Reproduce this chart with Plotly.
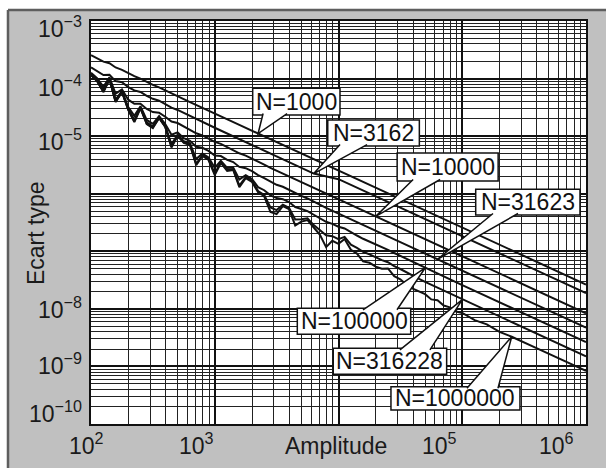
import math
import plotly.graph_objects as go

# ---------------------------------------------------------------------------
# Data: standard deviation ("Ecart type") versus amplitude for several N
# ---------------------------------------------------------------------------
amplitude_grid = [100, 112, 126, 141, 158, 178, 200, 224, 251, 282,
                  316, 355, 398, 447, 501, 562, 631, 708, 794, 891,
                  1000, 1120, 1260, 1410, 1580, 1780, 2000, 2240, 2510, 2820,
                  3160, 3550, 3980, 4470, 5010, 5620, 6310, 7080, 7940, 8910,
                  10000, 11200, 12600, 14100, 15800, 17800, 20000, 22400, 25100, 28200,
                  31600, 35500, 39800, 44700, 50100, 56200, 63100, 70800, 79400, 89100,
                  100000]

amp_n1000 = amplitude_grid[:13] + [631, 1580, 2240, 3980, 10000, 31600, 100000, 316000, 1000000]
sigma_n1000 = [2.55e-4, 2.25e-4, 1.97e-4, 1.85e-4, 1.56e-4, 1.42e-4, 1.24e-4, 1.10e-4, 9.95e-5, 8.74e-5,
               7.79e-5, 7.05e-5, 6.24e-5,
               3.90e-5, 1.57e-5, 1.11e-5, 6.30e-6, 2.53e-6, 8.09e-7, 2.59e-7, 8.27e-8, 2.65e-8]

amp_n3162 = amplitude_grid[:21] + [3160, 6310, 10000, 31600, 100000, 316000, 1000000]
sigma_n3162 = [1.56e-4, 1.35e-4, 1.15e-4, 1.16e-4, 9.04e-5, 8.61e-5, 7.12e-5, 6.24e-5, 5.85e-5, 5.00e-5,
               4.45e-5, 4.13e-5, 3.60e-5, 3.12e-5, 2.85e-5, 2.52e-5, 2.25e-5, 1.97e-5, 1.78e-5, 1.58e-5,
               1.40e-5,
               4.45e-6, 2.24e-6, 1.79e-6, 5.73e-7, 1.83e-7, 5.86e-8, 1.87e-8]

amp_n10000 = amplitude_grid[:33] + [10000, 20000, 31600, 100000, 316000, 1000000]
sigma_n10000 = [1.26e-4, 1.02e-4, 7.17e-5, 1.05e-4, 5.48e-5, 6.51e-5, 4.30e-5, 3.65e-5, 3.65e-5, 2.96e-5,
                2.62e-5, 2.56e-5, 2.17e-5, 1.79e-5, 1.69e-5, 1.48e-5, 1.32e-5, 1.12e-5, 1.03e-5, 9.16e-6,
                7.94e-6, 7.36e-6, 6.45e-6, 5.83e-6, 5.04e-6, 4.60e-6, 4.10e-6, 3.59e-6, 3.20e-6, 2.81e-6,
                2.51e-6, 2.27e-6, 2.02e-6,
                8.00e-7, 4.04e-7, 2.56e-7, 8.18e-8, 2.62e-8, 8.38e-9]

amp_n31623 = amplitude_grid[:39] + [31600, 63100, 100000, 316000, 1000000]
sigma_n31623 = [1.19e-4, 9.45e-5, 6.29e-5, 1.01e-4, 4.32e-5, 6.07e-5, 3.19e-5, 2.25e-5, 3.30e-5, 1.91e-5,
                1.64e-5, 2.23e-5, 1.62e-5, 1.06e-5, 1.16e-5, 9.19e-6, 8.32e-6, 6.53e-6, 6.27e-6, 5.55e-6,
                4.61e-6, 4.51e-6, 3.87e-6, 3.55e-6, 2.92e-6, 2.78e-6, 2.46e-6, 2.10e-6, 1.87e-6, 1.61e-6,
                1.43e-6, 1.32e-6, 1.17e-6, 1.01e-6, 9.16e-7, 8.27e-7, 7.29e-7, 6.45e-7, 5.69e-7,
                1.44e-7, 7.26e-8, 4.60e-8, 1.47e-8, 4.71e-9]

amp_n100000 = amplitude_grid[:51] + [50100, 100000, 316000, 1000000]
sigma_n100000 = [1.17e-4, 9.18e-5, 6.00e-5, 9.91e-5, 4.06e-5, 5.92e-5, 2.97e-5, 1.91e-5, 3.16e-5, 1.73e-5,
                 1.48e-5, 2.12e-5, 1.50e-5, 7.19e-6, 1.06e-5, 8.17e-6, 7.51e-6, 4.00e-6, 4.98e-6, 4.27e-6,
                 2.81e-6, 3.72e-6, 2.80e-6, 2.84e-6, 1.77e-6, 2.09e-6, 1.80e-6, 1.30e-6, 1.15e-6, 9.37e-7,
                 8.39e-7, 8.05e-7, 7.17e-7, 5.88e-7, 5.43e-7, 5.00e-7, 4.31e-7, 3.76e-7, 3.25e-7, 2.99e-7,
                 2.67e-7, 2.49e-7, 2.12e-7, 1.88e-7, 1.65e-7, 1.48e-7, 1.32e-7, 1.18e-7, 1.06e-7, 9.34e-8,
                 8.31e-8,
                 5.13e-8, 2.59e-8, 8.27e-9, 2.65e-9]

amp_n316228 = amplitude_grid[:57] + [100000, 316000, 1000000]
sigma_n316228 = [1.15e-4, 9.07e-5, 5.89e-5, 9.83e-5, 3.97e-5, 5.85e-5, 2.89e-5, 1.81e-5, 3.08e-5, 1.66e-5,
                 1.42e-5, 2.08e-5, 1.46e-5, 6.58e-6, 1.02e-5, 7.79e-6, 7.19e-6, 3.30e-6, 4.69e-6, 4.00e-6,
                 2.23e-6, 3.53e-6, 2.60e-6, 2.67e-6, 1.39e-6, 1.95e-6, 1.67e-6, 1.11e-6, 9.54e-7, 5.77e-7,
                 5.19e-7, 6.45e-7, 5.73e-7, 3.57e-7, 3.61e-7, 3.75e-7, 2.85e-7, 2.31e-7, 1.90e-7, 1.83e-7,
                 1.63e-7, 1.78e-7, 1.30e-7, 1.15e-7, 9.81e-8, 8.84e-8, 7.85e-8, 7.03e-8, 6.45e-8, 5.52e-8,
                 4.92e-8, 4.27e-8, 3.75e-8, 3.33e-8, 2.94e-8, 2.62e-8, 2.33e-8,
                 1.45e-8, 4.65e-9, 1.49e-9]

amp_n1000000 = amplitude_grid + [126000, 158000, 200000, 251000, 398000, 1000000]
sigma_n1000000 = [1.15e-4, 9.07e-5, 5.85e-5, 9.83e-5, 3.92e-5, 5.85e-5, 2.85e-5, 1.76e-5, 3.08e-5, 1.62e-5,
                  1.38e-5, 2.07e-5, 1.44e-5, 6.34e-6, 1.01e-5, 7.60e-6, 7.02e-6, 3.13e-6, 4.52e-6, 3.85e-6,
                  2.10e-6, 3.42e-6, 2.48e-6, 2.58e-6, 1.30e-6, 1.87e-6, 1.60e-6, 1.06e-6, 9.03e-7, 4.82e-7,
                  4.43e-7, 6.08e-7, 5.39e-7, 2.81e-7, 3.28e-7, 3.49e-7, 2.59e-7, 1.93e-7, 1.18e-7, 1.52e-7,
                  1.35e-7, 1.64e-7, 1.06e-7, 9.12e-8, 6.66e-8, 6.31e-8, 5.42e-8, 4.97e-8, 5.03e-8, 3.69e-8,
                  3.27e-8, 2.62e-8, 2.25e-8, 1.98e-8, 1.80e-8, 1.46e-8, 1.41e-8, 1.14e-8, 1.06e-8, 8.99e-9,
                  8.50e-9,
                  6.35e-9, 5.39e-9, 3.99e-9, 3.28e-9, 2.08e-9, 8.36e-10]

series = [
    ("N=1000", amp_n1000, sigma_n1000),
    ("N=3162", amp_n3162, sigma_n3162),
    ("N=10000", amp_n10000, sigma_n10000),
    ("N=31623", amp_n31623, sigma_n31623),
    ("N=100000", amp_n100000, sigma_n100000),
    ("N=316228", amp_n316228, sigma_n316228),
    ("N=1000000", amp_n1000000, sigma_n1000000),
]

x_tick_labels = [(2, "10<sup>2</sup>"), (3, "10<sup>3</sup>"), (5, "10<sup>5</sup>"), (6, "10<sup>6</sup>")]
y_tick_labels = [(-3, "10<sup>\u22123</sup>"), (-4, "10<sup>\u22124</sup>"), (-5, "10<sup>\u22125</sup>"),
                 (-8, "10<sup>\u22128</sup>"), (-9, "10<sup>\u22129</sup>"), (-10, "10<sup>\u221210</sup>")]

# ---------------------------------------------------------------------------
# Styling / placement
# ---------------------------------------------------------------------------
FONT = "Liberation Sans, Arial, Helvetica, sans-serif"
INK = "#111111"

# label nudges (px) for the tick captions
x_label_shift = {2: -5, 3: -18, 5: -23, 6: -30}
y_label_shift = {-3: -6, -4: -7, -5: -4, -8: 1, -9: 2, -10: 12}

# callouts: tip amplitude on the curve, box (left, right, top, bottom) and
# pointer base (x0, x1) in screen pixels relative to the tip
callout_layout = {
    "N=1000": dict(tip=2240, box=(-5.4, 81.9, -45.2, -18.5), base=(5, 29)),
    "N=3162": dict(tip=6310, box=(14, 105.6, -53.5, -27.5), base=(26.3, 53.3)),
    "N=10000": dict(tip=20000, box=(21.4, 122.4, -63.4, -35.4), base=(37.4, 64.4)),
    "N=31623": dict(tip=63100, box=(38.2, 142.5, -70, -44.3), base=(55.5, 80.5)),
    "N=100000": dict(tip=50100, box=(-127.8, -14.4, 40.3, 66.3), base=(-62.1, -28.1)),
    "N=316228": dict(tip=100000, box=(-129, -15.6, 48.8, 74.8), base=(-62.3, -32.3)),
    "N=1000000": dict(tip=251000, box=(-120.75, 8.25, 50, 73.3), base=(-44.75, -13.75)),
}

fig = go.Figure()

for label, amp, sig in series:
    fig.add_trace(go.Scatter(x=amp, y=sig, mode="lines", name=label,
                             line=dict(color=INK, width=2.0), showlegend=False,
                             hoverinfo="skip"))

shapes = []
annotations = []

# frame of the figure: white strip top/left, dark edge, grey panel (paper bg)
shapes += [
    dict(type="rect", xref="paper", yref="paper", x0=-0.3, x1=1.2, y0=1.0273, y1=1.2,
         line=dict(width=0), fillcolor="white", layer="below"),
    dict(type="rect", xref="paper", yref="paper", x0=-0.3, x1=-0.1677, y0=-0.3, y1=1.2,
         line=dict(width=0), fillcolor="white", layer="below"),
    dict(type="line", xref="paper", yref="paper", x0=-0.1677, x1=1.2, y0=1.0273, y1=1.0273,
         line=dict(color="#5e5e5e", width=2.5), layer="below"),
    dict(type="line", xref="paper", yref="paper", x0=-0.1677, x1=-0.1677, y0=-0.3, y1=1.0273,
         line=dict(color="#5e5e5e", width=2.5), layer="below"),
]

# callout boxes with pointers (shape anchors use data values on log axes,
# annotations use log10 positions); pixel y offsets point upwards
for label, amp, sig in series:
    c = callout_layout[label]
    i = amp.index(c["tip"])
    left, right, top, bottom = c["box"]
    b0, b1 = c["base"]
    by = bottom - 1.5 if bottom < 0 else top + 1.5
    anchor = dict(xref="x", yref="y", xsizemode="pixel", ysizemode="pixel",
                  xanchor=amp[i], yanchor=sig[i], layer="above")
    box_path = (f"M {left},{-top} L {right},{-top} L {right},{-bottom} "
                f"L {left},{-bottom} Z")
    shapes.append(dict(type="path", path=box_path,
                       line=dict(color=INK, width=1.5), fillcolor="white", **anchor))
    shapes.append(dict(type="path", path=f"M {b0},{-by} L 0,0 L {b1},{-by} Z",
                       line=dict(width=0), fillcolor="white", **anchor))
    shapes.append(dict(type="path", path=f"M {b0},{-by} L 0,0 L {b1},{-by}",
                       line=dict(color=INK, width=1.5), fillcolor="rgba(0,0,0,0)", **anchor))
    annotations.append(dict(x=math.log10(amp[i]), y=math.log10(sig[i]), xref="x", yref="y",
                            text=label, showarrow=False,
                            xanchor="center", yanchor="middle",
                            xshift=(left + right) / 2, yshift=-(top + bottom) / 2,
                            font=dict(family=FONT, size=23, color=INK)))

# tick captions
for v, t in x_tick_labels:
    annotations.append(dict(x=v, y=0, xref="x", yref="paper", text=t, showarrow=False,
                            xanchor="center", yanchor="middle", xshift=x_label_shift[v], yshift=-20,
                            font=dict(family=FONT, size=23, color="#1a1a1a")))
for v, t in y_tick_labels:
    annotations.append(dict(x=0, y=v, xref="paper", yref="y", text=t, showarrow=False,
                            xanchor="right", yanchor="middle", xshift=-7, yshift=y_label_shift[v],
                            font=dict(family=FONT, size=23, color="#1a1a1a")))

# axis titles
annotations.append(dict(x=4, y=0, xref="x", yref="paper", text="Amplitude", showarrow=False,
                        xanchor="center", yanchor="middle", xshift=-3, yshift=-22,
                        font=dict(family=FONT, size=23, color="#1a1a1a")))
annotations.append(dict(x=-0.111, y=0.474, xref="paper", yref="paper", text="Ecart type",
                        showarrow=False, textangle=-90, xanchor="center", yanchor="middle",
                        font=dict(family=FONT, size=23, color="#1a1a1a")))

decades_x = [10 ** e for e in range(2, 7)]
decades_y = [10.0 ** e for e in range(-10, -2)]
minor_x = [d * 10 ** e for e in range(2, 6) for d in range(2, 10)]
minor_y = [d * 10.0 ** e for e in range(-10, -3) for d in range(2, 10)]

fig.update_layout(
    width=606, height=468,
    margin=dict(l=91, r=20, t=21, b=44),
    paper_bgcolor="#c0c0c0",
    plot_bgcolor="white",
    shapes=shapes,
    annotations=annotations,
    font=dict(family=FONT, color=INK),
    xaxis=dict(type="log", range=[2, 6], tickmode="array", tickvals=decades_x,
               showticklabels=False, ticks="", showgrid=True, gridcolor=INK, gridwidth=2,
               showline=True, linecolor=INK, linewidth=1.5, mirror=True, zeroline=False,
               minor=dict(tickmode="array", tickvals=minor_x, showgrid=True,
                          gridcolor="#222222", gridwidth=1, ticks="")),
    yaxis=dict(type="log", range=[-10, -3], tickmode="array", tickvals=decades_y,
               showticklabels=False, ticks="", showgrid=True, gridcolor=INK, gridwidth=2,
               showline=True, linecolor=INK, linewidth=1.5, mirror=True, zeroline=False,
               minor=dict(tickmode="array", tickvals=minor_y, showgrid=True,
                          gridcolor="#222222", gridwidth=1, ticks="")),
)

fig.write_html("out.html")
